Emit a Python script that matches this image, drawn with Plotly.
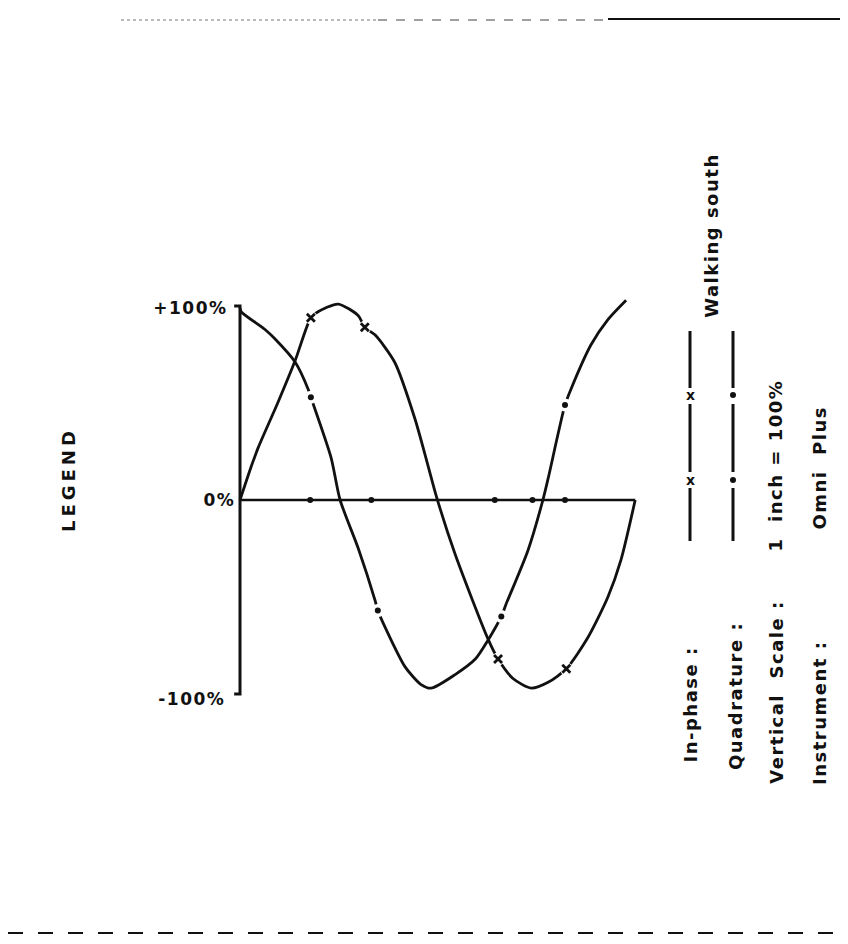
import json
import plotly.graph_objects as go

W, H = 848, 944

# ---------------- data (x in station units, y in percent) ----------------
inphase_x = [0, 0.17, 0.28, 0.58, 0.85, 1.09, 1.2, 1.51, 1.82, 1.92, 2.08, 2.38, 2.69, 2.89,
             3.02, 3.31, 3.82, 3.97, 4.2, 4.48, 4.74, 5.02, 5.35, 5.66, 5.86, 6.08]
inphase_y = [0, 17, 27, 50, 72, 94, 97, 101, 95, 89, 85, 71, 42, 18,
             2, -28, -72, -82, -92, -97, -94, -87, -71, -50, -31, 0]
inphase_mark_x = [1.09, 1.92, 3.97, 5.02]
inphase_mark_y = [94, 89, -82, -87]

quad_x = [0, 0.02, 0.38, 0.54, 0.85, 1.05, 1.09, 1.4, 1.54, 1.82, 2.08, 2.12, 2.28, 2.54,
          2.78, 2.94, 3.31, 3.62, 3.82, 4.02, 4.09, 4.43, 4.66, 4.74, 5.0, 5.09, 5.4, 5.66, 5.94]
quad_y = [99, 97, 88, 83, 71, 57, 53, 22, 0, -25, -52, -57, -69, -86,
          -95, -97, -90, -82, -72, -60, -54, -26, 0, 11, 49, 57, 80, 93, 103]
quad_mark_x = [1.09, 2.12, 4.02, 5.0]
quad_mark_y = [53, -57, -60, 49]

station_ticks = [1.08, 2.02, 3.92, 4.5, 5.0]
axis_end = 6.08
y_labels = ["+100%", "0%", "-100%"]
y_label_vals = [100, 0, -100]

legend_rows = ["In-phase :", "Quadrature :", "Vertical  Scale :", "Instrument :"]
legend_values = ["", "", "1  inch = 100%", "Omni  Plus"]
legend_note = "Walking south"
title_text = "LEGEND"

# ---------------- layout helpers ----------------
X0_PX, Y0_PX = 232, 492          # pixel position of the data origin
PX_PER_X, PX_PER_PCT = 65.0, 1.94
xr = [-X0_PX / PX_PER_X, (W - X0_PX) / PX_PER_X]
yr = [-(H - Y0_PX) / PX_PER_PCT, Y0_PX / PX_PER_PCT]

def px(xp):
    return xp / W

def py(yp):
    return 1 - yp / H

INK = "#111111"
FONT = "DejaVu Sans"

fig = go.Figure()

# axes
fig.add_trace(go.Scatter(x=[-0.09, 0, 0, -0.09], y=[100, 100, -100, -100], mode="lines",
                         line=dict(color=INK, width=3), hoverinfo="skip"))
fig.add_trace(go.Scatter(x=[0, axis_end], y=[0, 0], mode="lines",
                         line=dict(color=INK, width=2.4), hoverinfo="skip"))
fig.add_trace(go.Scatter(x=station_ticks, y=[0] * len(station_ticks), mode="markers",
                         marker=dict(symbol="circle", size=6, color=INK), hoverinfo="skip"))

# curves
fig.add_trace(go.Scatter(x=inphase_x, y=inphase_y, mode="lines", name="In-phase",
                         line=dict(color=INK, width=2.8, shape="spline", smoothing=0.7)))
fig.add_trace(go.Scatter(x=quad_x, y=quad_y, mode="lines", name="Quadrature",
                         line=dict(color=INK, width=2.8, shape="spline", smoothing=0.7)))

# gaps + markers
fig.add_trace(go.Scatter(x=inphase_mark_x, y=inphase_mark_y, mode="markers",
                         marker=dict(symbol="circle", size=13, color="white"), hoverinfo="skip"))
fig.add_trace(go.Scatter(x=inphase_mark_x, y=inphase_mark_y, mode="markers",
                         marker=dict(symbol="x-thin", size=8, line=dict(color=INK, width=2.8)),
                         hoverinfo="skip"))
fig.add_trace(go.Scatter(x=quad_mark_x, y=quad_mark_y, mode="markers",
                         marker=dict(symbol="circle", size=13, color="white"), hoverinfo="skip"))
fig.add_trace(go.Scatter(x=quad_mark_x, y=quad_mark_y, mode="markers",
                         marker=dict(symbol="circle", size=6, color=INK), hoverinfo="skip"))

def tfont(size=18):
    return dict(family=FONT, size=size, color=INK, weight="bold")

annotations = []
# y labels (centres in pixels)
ylab_cx = [182, 211, 184]
ylab_cy = [300, 492, 691]
for txt, cx, cy in zip(y_labels, ylab_cx, ylab_cy):
    annotations.append(dict(x=px(cx), y=py(cy), xref="paper", yref="paper",
                            text=txt, showarrow=False, xanchor="center", yanchor="middle",
                            font=tfont(17)))

# LEGEND title
annotations.append(dict(x=px(60), y=py(472), xref="paper", yref="paper", text=title_text,
                        textangle=-90, showarrow=False, xanchor="center", yanchor="middle",
                        font=tfont(18)))

# legend rows (rotated, centres in pixels)
row_x = [682, 727, 768, 811]
row_cy = [697, 688, 684, 705]
val_cy = [None, None, 458, 460]
for i, (lab, val) in enumerate(zip(legend_rows, legend_values)):
    annotations.append(dict(x=px(row_x[i]), y=py(row_cy[i]), xref="paper", yref="paper",
                            text=lab, textangle=-90, showarrow=False, xanchor="center",
                            yanchor="middle", font=tfont(18)))
    if val:
        annotations.append(dict(x=px(row_x[i]), y=py(val_cy[i]), xref="paper", yref="paper",
                                text=val, textangle=-90, showarrow=False, xanchor="center",
                                yanchor="middle", font=tfont(18)))
annotations.append(dict(x=px(703), y=py(228), xref="paper", yref="paper", text=legend_note,
                        textangle=-90, showarrow=False, xanchor="center", yanchor="middle",
                        font=tfont(18)))

# legend key samples (paper-space decorations)
shapes = []
for xk in (682, 725):
    for (a, b) in ((323, 380), (396, 464), (480, 533)):
        shapes.append(dict(type="line", xref="paper", yref="paper", x0=px(xk), x1=px(xk),
                           y0=py(a), y1=py(b), line=dict(color=INK, width=3)))
for yk in (387, 472):
    annotations.append(dict(x=px(682), y=py(yk), xref="paper", yref="paper", text="x",
                            showarrow=False, xanchor="center", yanchor="middle",
                            font=tfont(14)))
    shapes.append(dict(type="circle", xref="paper", yref="paper", x0=px(722), x1=px(728),
                       y0=py(yk - 3), y1=py(yk + 3), fillcolor=INK, line=dict(width=0)))

# scan border lines
shapes.append(dict(type="line", xref="paper", yref="paper", x0=px(113), x1=px(370),
                   y0=py(12), y1=py(12), line=dict(color="#777777", width=1, dash="dot")))
shapes.append(dict(type="line", xref="paper", yref="paper", x0=px(370), x1=px(600),
                   y0=py(12), y1=py(12), line=dict(color="#444444", width=1.2, dash="dash")))
shapes.append(dict(type="line", xref="paper", yref="paper", x0=px(600), x1=px(848),
                   y0=py(11), y1=py(11), line=dict(color=INK, width=1.8)))
shapes.append(dict(type="line", xref="paper", yref="paper", x0=0, x1=1,
                   y0=py(925), y1=py(925), line=dict(color=INK, width=2, dash="longdash")))

fig.update_layout(
    width=W, height=H, margin=dict(l=0, r=0, t=0, b=0),
    paper_bgcolor="white", plot_bgcolor="white", showlegend=False,
    xaxis=dict(range=xr, visible=False, fixedrange=True),
    yaxis=dict(range=yr, visible=False, fixedrange=True),
    annotations=annotations, shapes=shapes,
)

# slightly wide letter spacing of the stencilled lettering
spacing = {"LEGEND": 4, "x": 0}
post = """
var SP = %s;
document.querySelectorAll('text.annotation-text').forEach(function(t){
  var s = t.textContent.trim();
  var ls = (s in SP) ? SP[s] : 1.5;
  t.style.letterSpacing = ls + 'px';
});
""" % json.dumps(spacing)

fig.write_html("out.html", post_script=post)
